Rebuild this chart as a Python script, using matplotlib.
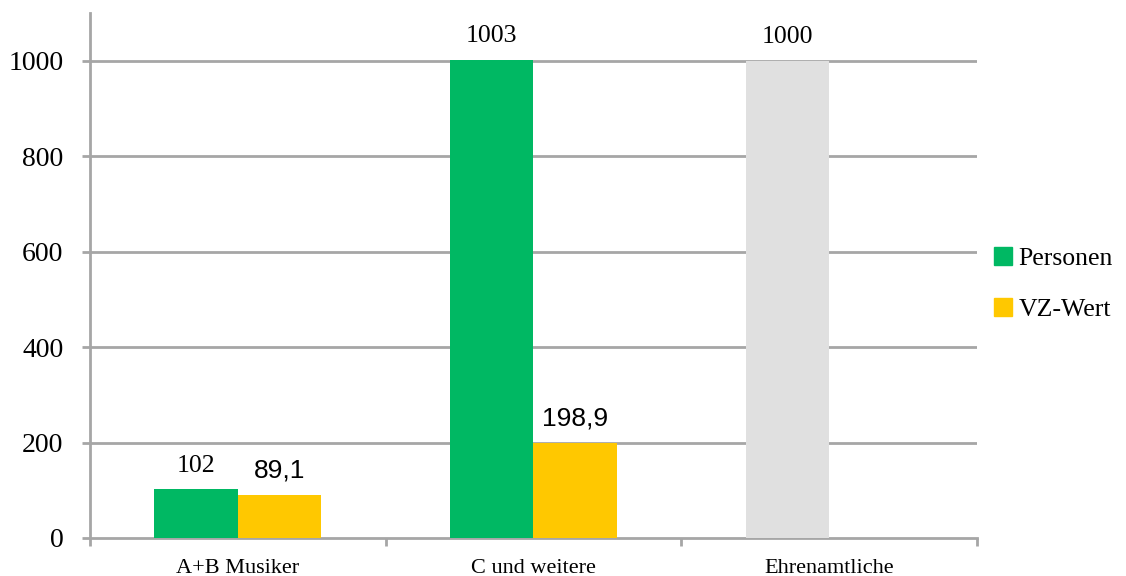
import numpy as np
import matplotlib.pyplot as plt
from matplotlib.patches import Patch

# data
categories = ["A+B Musiker", "C und weitere", "Ehrenamtliche"]
personen = [102, 1003, 1000]
vz_wert = [89.1, 198.9, np.nan]
personen_labels = ["102", "1003", "1000"]
vz_labels = ["89,1", "198,9", ""]

green = "#00b863"
yellow = "#ffc800"
grey = "#e0e0e0"
gridc = "#a6a6a6"

plt.rcParams['font.family'] = ['Liberation Serif', 'DejaVu Serif']

fig = plt.figure(figsize=(11.26, 5.76), dpi=100)
ax = fig.add_axes([0.0799, 0.066, 0.7878, 0.911])

x = np.arange(len(categories))
w = 0.283
pcolors = [green, green, grey]
ax.bar(x - w / 2, personen, w, color=pcolors, zorder=3)
ax.bar(x + w / 2, vz_wert, w, color=yellow, zorder=3)

# value labels
for xi, v, lab in zip(x, personen, personen_labels):
    ax.annotate(lab, (xi - w / 2, v), xytext=(0, 9), textcoords='offset points',
                ha='center', va='bottom', fontsize=18.5)
for xi, v, lab in zip(x, vz_wert, vz_labels):
    if lab:
        ax.annotate(lab, (xi + w / 2, v), xytext=(0, 9), textcoords='offset points',
                    ha='center', va='bottom', fontsize=19, family='Liberation Sans')

ax.set_xlim(-0.5, 2.5)
ax.set_ylim(0, 1100)
ax.set_yticks([0, 200, 400, 600, 800, 1000])
ax.set_yticklabels(["0", "200", "400", "600", "800", "1000"], fontsize=20)
for yv in [200, 400, 600, 800, 1000]:
    ax.axhline(yv, color=gridc, lw=2, zorder=1)

ax.set_xticks(x)
ax.set_xticklabels(categories, fontsize=16)
ax.set_xticks([-0.5, 0.5, 1.5, 2.5], minor=True)
ax.tick_params(axis='x', which='major', length=0, pad=15)
ax.tick_params(axis='x', which='minor', length=6, width=2, color=gridc, direction='out')
ax.tick_params(axis='y', length=6, width=2, color=gridc, pad=13)

for s in ['top', 'right']:
    ax.spines[s].set_visible(False)
for s in ['left', 'bottom']:
    ax.spines[s].set_color(gridc)
    ax.spines[s].set_linewidth(2)

handles = [Patch(color=green, label='Personen'), Patch(color=yellow, label='VZ-Wert')]
fig.legend(handles=handles, loc='center left', bbox_to_anchor=(0.883, 0.507), frameon=False,
           fontsize=18.5, handlelength=0.7, handleheight=0.7, handletextpad=0.25,
           labelspacing=1.1, borderpad=0, borderaxespad=0)

fig.savefig("out.png", dpi=100)
